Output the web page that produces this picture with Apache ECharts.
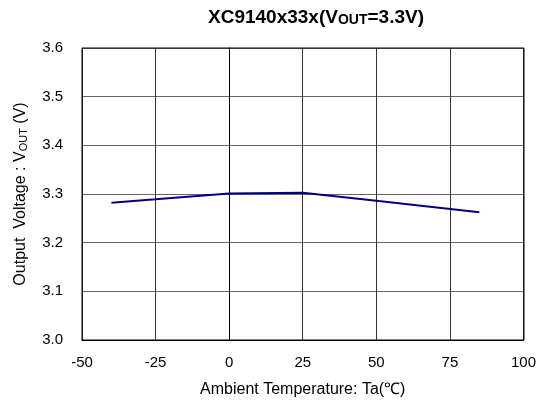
<!DOCTYPE html>
<html><head><meta charset="utf-8">
<script src="https://cdn.jsdelivr.net/npm/echarts@6/dist/echarts.min.js"></script>
<style>html,body{margin:0;padding:0;background:#fff}#c{width:539px;height:405px}</style>
</head><body><div id="c"></div>
<script>
const temps = [-40, -25, 0, 25, 50, 85];
const vout = [3.282, 3.289, 3.301, 3.3026, 3.286, 3.2625];
const xTicks = [-50, 100, 25];
const yTicks = [3.0, 3.6, 0.1];
const F = 'Liberation Sans, Arial, sans-serif';
const chart = echarts.init(document.getElementById('c'));
chart.setOption({
  animation: false,
  title: {
    text: '{b|XC9140x33x(V}{s|OUT}{b|=3.3V)}',
    left: 311, top: 3, textAlign: 'center',
    textStyle: { rich: {
      b: { fontFamily: F, fontWeight: 'bold', fontSize: 19, color: '#000' },
      s: { fontFamily: F, fontWeight: 'bold', fontSize: 14, color: '#000', verticalAlign: 'bottom', padding: [4,0,0,0] }
    }}
  },
  grid: { left: 82, right: 15, top: 48, bottom: 65 },
  xAxis: {
    type: 'value', min: xTicks[0], max: xTicks[1], interval: xTicks[2],
    name: 'Ambient Temperature: Ta(℃)', nameLocation: 'middle', nameGap: 42,
    nameTextStyle: { fontFamily: F, fontSize: 16, color: '#000' },
    axisLine: { lineStyle: { color: '#000', width: 1 } },
    axisTick: { show: false },
    axisLabel: { fontFamily: F, fontSize: 15, color: '#000', margin: 15 },
    splitLine: { show: true, lineStyle: { color: '#333', width: 1 } }
  },
  yAxis: {
    type: 'value', min: yTicks[0], max: yTicks[1], interval: yTicks[2],
    name: '{n|Output  Voltage : V}{s|OUT}{n| (V)}', nameLocation: 'middle', nameGap: 53, nameRotate: 90,
    nameTextStyle: { rich: {
      n: { fontFamily: F, fontSize: 16, color: '#000' },
      s: { fontFamily: F, fontSize: 11, color: '#000', verticalAlign: 'bottom', padding: [6,0,0,0] }
    }},
    axisLine: { show: true, lineStyle: { color: '#000', width: 1 } },
    axisTick: { show: false },
    axisLabel: { fontFamily: F, fontSize: 15, color: '#000', margin: 19, formatter: v => v.toFixed(1) },
    splitLine: { show: true, lineStyle: { color: '#666', width: 1 } }
  },
  series: [{
    type: 'line', data: temps.map((t, i) => [t, vout[i]]),
    showSymbol: false, lineStyle: { color: '#000080', width: 2 }, itemStyle: { color: '#000080' }
  }]
});
chart.setOption({ graphic: [{ type: 'rect', shape: { x: 82, y: 48, width: 442, height: 292 }, style: { fill: 'none', stroke: '#000', lineWidth: 1 }, silent: true }] });
</script></body></html>
